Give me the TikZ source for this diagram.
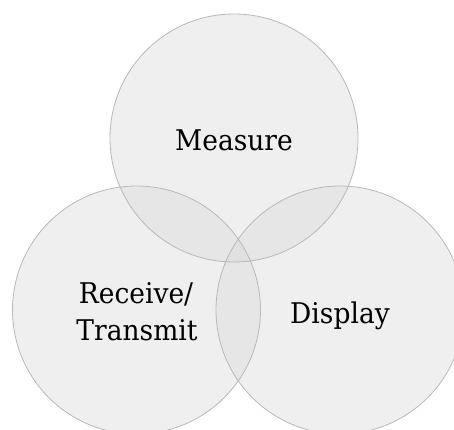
\documentclass[tikz,border=0pt]{standalone}
\usepackage{fontspec}
\setmainfont{DejaVu Serif}[FakeStretch=0.93]
\definecolor{setfill}{HTML}{D9D9D9}
\definecolor{setline}{HTML}{B8B8B8}
\begin{document}
\begin{tikzpicture}[x=1pt,y=-1pt,
  setdisc/.style={circle,minimum size=248pt,inner sep=0pt,outer sep=0pt},
  setlabel/.style={font=\fontsize{28.5}{37}\selectfont,align=center,text=black}]
\useasboundingbox (0,0) rectangle (454,429);
% three overlapping sets
\node[setdisc] (measure) at (234,138) {};
\node[setdisc] (receive) at (136.5,310) {};
\node[setdisc] (display) at (340,310) {};
% translucent fills first, outlines on top
\foreach \s in {measure,receive,display}
  \fill[setfill,fill opacity=0.42] (\s.center) circle (124);
\foreach \s in {measure,receive,display}
  \draw[setline,line width=0.8pt] (\s.center) circle (124);
% labels
\node[setlabel,anchor=base] (tm) at (234,150) {Measure};
\node[setlabel,anchor=base] (tr) at (136,303) {Receive/};
\node[setlabel,anchor=base] (tt) at (137,340) {Transmit};
\node[setlabel,anchor=base] (td) at (340,323) {Display};
\end{tikzpicture}
\end{document}
